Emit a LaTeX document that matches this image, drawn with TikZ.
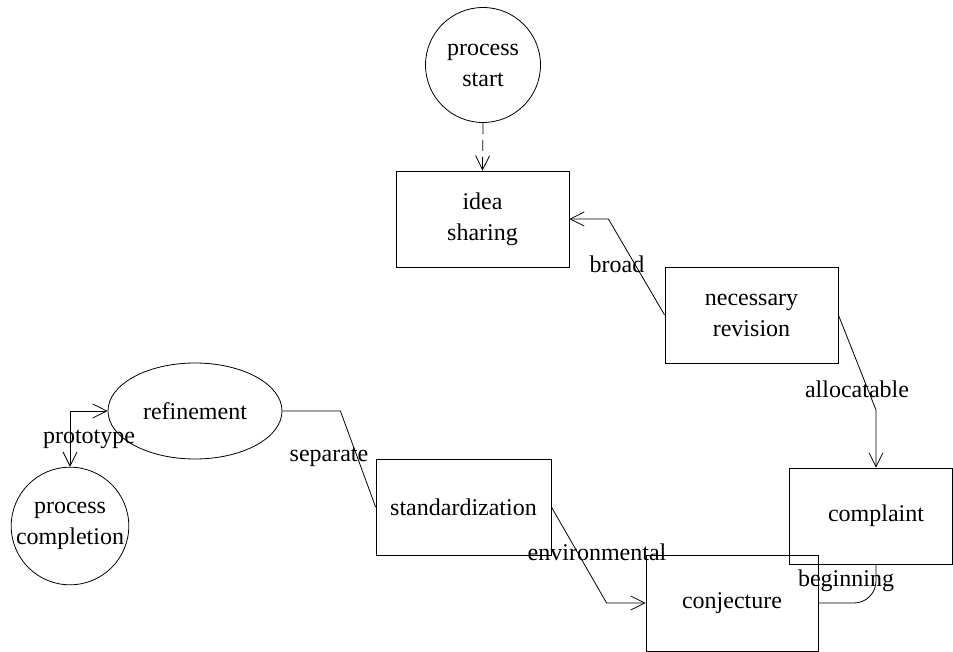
\documentclass[tikz,border=0pt]{standalone}
\usepackage{fontspec}
\setmainfont{Liberation Serif}
\usetikzlibrary{arrows.meta,shapes.geometric,calc}
\tikzset{
  base/.style={draw, line width=0.8pt, align=center, font=\fontsize{24}{31}\selectfont, inner sep=0pt},
  boxnode/.style={base, rectangle, minimum width=173pt, minimum height=96pt},
  circnode/.style={base, circle, minimum size=115pt},
  ellnode/.style={base, ellipse, minimum width=174pt, minimum height=96pt},
  conn/.style={line width=0.8pt},
  arr/.style={conn, -{Straight Barb[length=14pt,width=14pt]}},
  lbl/.style={font=\fontsize{24}{31}\selectfont, inner sep=0pt}
}
\begin{document}
\begin{tikzpicture}[x=1pt,y=-1pt]
\useasboundingbox (0,0) rectangle (953,652);
% nodes
\node[circnode] (ps) at (483,65) {process\\start};
\node[boxnode] (idea) at (482.5,219) {idea\\sharing};
\node[boxnode] (nr) at (751.5,315) {necessary\\revision};
\node[boxnode, minimum width=163pt] (comp) at (871,516) {\hspace*{10pt}complaint};
\node[boxnode, minimum width=172pt] (conj) at (732,603) {conjecture};
\node[boxnode, minimum width=175pt] (std) at (463.5,507) {standardization};
\node[ellnode] (ref) at (195,411) {refinement};
\node[circnode] (pc) at (70,526) {process\\completion};
% connectors
\draw[arr, dash pattern=on 11pt off 6pt] (ps.south) -- (idea.north);
\coordinate (b1) at ($(idea.east)+(39,0)$);
\draw[arr] (nr.west) -- (b1) -- (idea.east);
\coordinate (a1) at (876,410);
\draw[arr] (nr.east) -- (a1) -- (a1 |- comp.north);
\draw[conn, rounded corners=22pt] (a1 |- comp.south) |- (conj.east);
\coordinate (e1) at ($(conj.west)+(-39,0)$);
\draw[arr] (std.east) -- (e1) -- (conj.west);
\coordinate (s1) at ($(ref.east)+(58,0)$);
\draw[conn] (ref.east) -- (s1) -- (std.west);
\draw[conn, {Straight Barb[length=14pt,width=14pt]}-{Straight Barb[length=14pt,width=14pt]}] (ref.west) -| (pc.north);
% labels
\node[lbl] (lb) at (617,264) {broad};
\node[lbl] (la) at (857,389) {allocatable};
\node[lbl] (lsep) at (329,457) {separate};
\node[lbl] (lp) at (89,439) {prototype};
\node[lbl] (le) at (597,552) {environmental};
\node[lbl] (lbeg) at (846,581) {beginning};
\end{tikzpicture}
\end{document}
